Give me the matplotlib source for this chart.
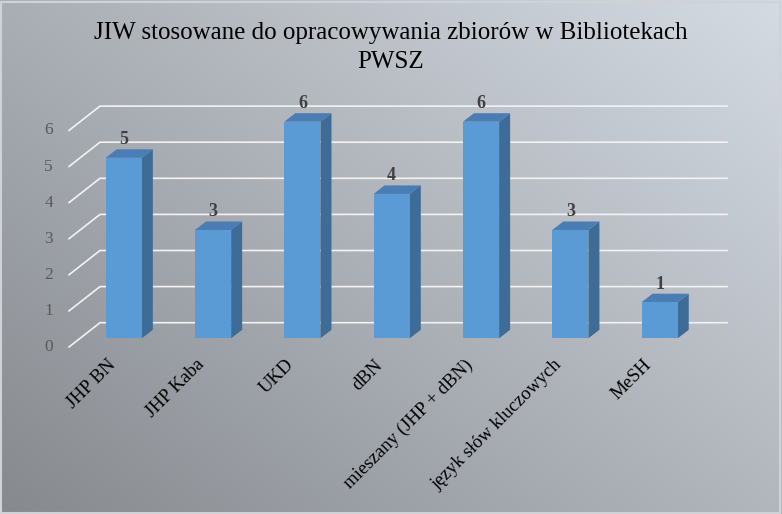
import numpy as np
import matplotlib.pyplot as plt
from matplotlib.patches import Polygon, Rectangle

# data
categories = ["JHP BN", "JHP Kaba", "UKD", "dBN", "mieszany (JHP + dBN)",
              "język słów kluczowych", "MeSH"]
values = [5, 3, 6, 4, 6, 3, 1]
yticks = [0, 1, 2, 3, 4, 5, 6]
title_lines = ["JIW stosowane do opracowywania zbiorów w Bibliotekach", "PWSZ"]

plt.rcParams['font.family'] = ['Liberation Serif', 'DejaVu Serif']

W, H, DPI = 782, 514, 100
fig = plt.figure(figsize=(W / DPI, H / DPI), dpi=DPI)

# gradient background
bg = fig.add_axes([0, 0, 1, 1], zorder=-10)
xx, yy = np.meshgrid(np.linspace(0, 1, 200), np.linspace(0, 1, 200))
s = 0.55 * xx + 0.45 * yy
c0 = np.array([0x86, 0x8a, 0x8f]) / 255
c1 = np.array([0xd5, 0xdb, 0xe3]) / 255
img = c0[None, None, :] + s[:, :, None] * (c1 - c0)[None, None, :]
bg.imshow(img, origin='lower', extent=[0, 1, 0, 1], aspect='auto')
bg.set_xlim(0, 1)
bg.set_ylim(0, 1)
bg.axis('off')
bg.add_patch(Rectangle((0.001, 0.002), 0.997, 0.995, fill=False,
                       edgecolor='#cfd2d6', lw=1.5, transform=bg.transAxes))

# main axes (front plane of bars)
x0, x1 = -0.49, 6.53
left_px, right_px = 80, 707
zero_px, unit_px = 338.3, 36.1
ax = fig.add_axes([left_px / W, (H - zero_px) / H,
                   (right_px - left_px) / W, 6 * unit_px / H])
ax.set_xlim(x0, x1)
ax.set_ylim(0, 6)
ax.axis('off')
ax.patch.set_alpha(0)

fig.canvas.draw()
T = ax.transData


def disp(x, y, dx=0, dy=0):
    px, py = T.transform((x, y))
    return (px + dx, py + dy)


ident = fig.transFigure.inverted()


def poly(pts, **kw):
    pts = [ident.transform(p) for p in pts]
    fig.add_artist(Polygon(pts, closed=True, transform=fig.transFigure, **kw))


back = (20, 15.6)
front = (-11, -8.7)
depth = (11, 8.5)
grid_right = 727

# gridlines on back wall + left wall diagonals + tick labels
for v in yticks:
    bx, by = disp(x0, v, *back)
    fx, fy = disp(x0, v, *front)
    pts = [ident.transform(p) for p in [(fx, fy), (bx, by), (grid_right, by)]]
    fig.add_artist(plt.Line2D([p[0] for p in pts], [p[1] for p in pts],
                              transform=fig.transFigure, color='#f2f2f2', lw=1.2, zorder=1))
    tx, ty = ident.transform((fx - 16, fy))
    fig.text(tx, ty, str(v), ha='right', va='center', fontsize=12.5, color='#595959')

# bars
bw = 0.405
for i, v in enumerate(values):
    fl = disp(i - bw / 2, 0)
    fr = disp(i + bw / 2, 0)
    tl = disp(i - bw / 2, v)
    tr = disp(i + bw / 2, v)
    dx, dy = depth
    poly([fr, tr, (tr[0] + dx, tr[1] + dy), (fr[0] + dx, fr[1] + dy)],
         facecolor='#3f6c97', edgecolor='none', zorder=3)
    poly([tl, tr, (tr[0] + dx, tr[1] + dy), (tl[0] + dx, tl[1] + dy)],
         facecolor='#4a7db3', edgecolor='none', zorder=3)
    poly([fl, fr, tr, tl], facecolor='#5b9bd5', edgecolor='none', zorder=4)
    lx, ly = ident.transform(disp(i, v, 0, 18))
    fig.text(lx, ly, str(v), ha='center', va='center', fontsize=13,
             fontweight='bold', color='#404040')
    cx, cy = ident.transform(disp(i, 0, -5, -18))
    fig.text(cx, cy, categories[i], ha='right', va='top', rotation=45,
             fontsize=13.5, color='black')

fig.text(0.5, 1 - 33 / H, title_lines[0], ha='center', va='center', fontsize=18,
         color='black')
fig.text(0.5, 1 - 62 / H, title_lines[1], ha='center', va='center', fontsize=18,
         color='black')

fig.savefig('out.png', dpi=DPI)
